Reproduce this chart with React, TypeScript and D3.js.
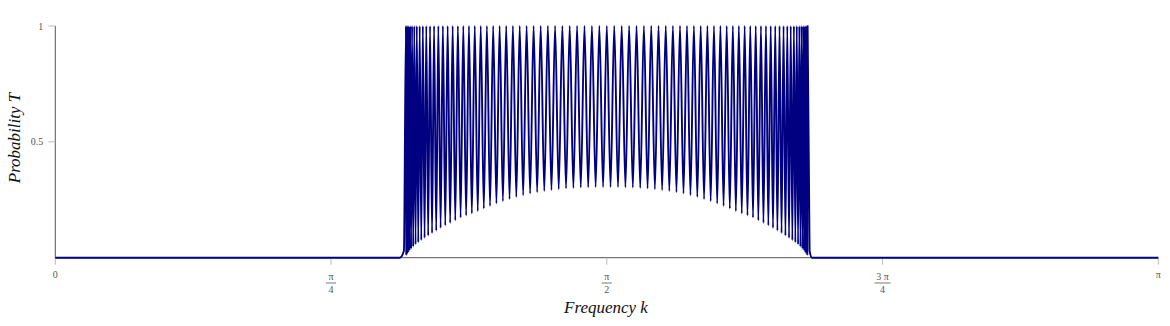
import React from "react";
import * as d3 from "d3";

// Resonance peak positions (frequency k, radians), where T reaches 1
const peakK = [
  0.998828, 1.000322, 1.002819, 1.006279, 1.010722, 1.016119, 1.022449, 1.029694, 1.037853, 1.046847,
  1.056687, 1.067343, 1.078785, 1.090994, 1.1039, 1.117505, 1.131759, 1.146632, 1.162114, 1.178137,
  1.19469, 1.211736, 1.229253, 1.247202, 1.265545, 1.284261, 1.303332, 1.322726, 1.342396, 1.362341,
  1.382512, 1.402909, 1.423493, 1.444225, 1.465114, 1.486111, 1.507196, 1.52837, 1.549573, 1.570796,
  1.592019, 1.613222, 1.634396, 1.655481, 1.676478, 1.697367, 1.718099, 1.738683, 1.75908, 1.779251,
  1.799196, 1.818866, 1.83826, 1.857331, 1.876047, 1.89439, 1.912339, 1.929856, 1.946902, 1.963455,
  1.979478, 1.99496, 2.009833, 2.024087, 2.037692, 2.050598, 2.062807, 2.074249, 2.084905, 2.094745,
  2.103739, 2.111898, 2.119143, 2.125473, 2.13087, 2.135313, 2.138773, 2.14127, 2.142764,
];
const peakT = 1;

// Minimum transmission between consecutive resonances
const valleyT = [
  0.01, 0.015, 0.022, 0.03, 0.038, 0.047, 0.057, 0.066, 0.075, 0.085,
  0.095, 0.106, 0.117, 0.128, 0.139, 0.15, 0.161, 0.173, 0.182, 0.191,
  0.201, 0.212, 0.223, 0.234, 0.244, 0.253, 0.262, 0.27, 0.277, 0.283,
  0.288, 0.292, 0.296, 0.299, 0.301, 0.303, 0.304, 0.305, 0.305,
  0.305, 0.305, 0.304, 0.303, 0.301, 0.299, 0.296, 0.292, 0.288, 0.283,
  0.277, 0.27, 0.262, 0.253, 0.244, 0.234, 0.223, 0.212, 0.201, 0.191,
  0.182, 0.173, 0.161, 0.15, 0.139, 0.128, 0.117, 0.106, 0.095, 0.085,
  0.075, 0.066, 0.057, 0.047, 0.038, 0.03, 0.022, 0.015, 0.01,
];

// Evanescent tails outside the band
const leftTailK = [0, 0.9815, 0.9929];
const leftTailT = [0, 0, 0.03];
const rightTailK = [2.1484, 2.1552, Math.PI];
const rightTailT = [0.03, 0, 0];

const xTickValues = [0, Math.PI / 4, Math.PI / 2, (3 * Math.PI) / 4, Math.PI];
const xTickNum = ["0", "π", "π", "3 π", "π"];
const xTickDen = ["", "4", "2", "4", ""];
const yTickValues = [0.5, 1];
const yTickLabels = ["0.5", "1"];

export default function App() {
  const W = 1170;
  const H = 326;
  const x = d3.scaleLinear().domain([0, Math.PI]).range([55.3, 1158.3]);
  const y = d3.scaleLinear().domain([0, 1]).range([257.7, 26]);

  const pts: [number, number][] = [];
  leftTailK.forEach((k, i) => pts.push([k, leftTailT[i]]));
  peakK.forEach((k, i) => {
    pts.push([k, peakT]);
    if (i < peakK.length - 1) {
      pts.push([(k + peakK[i + 1]) / 2, valleyT[i]]);
    }
  });
  rightTailK.forEach((k, i) => pts.push([k, rightTailT[i]]));

  const line = d3
    .line<[number, number]>()
    .x((d) => x(d[0]))
    .y((d) => y(d[1]))
    .curve(d3.curveMonotoneX);

  const serif = "'Liberation Serif', 'DejaVu Serif', serif";

  return (
    <svg
      width={W}
      height={H}
      style={{ position: "absolute", left: 0, top: 0, background: "#fff" }}
    >
      {/* y axis */}
      <line x1={x(0)} x2={x(0)} y1={y(1)} y2={y(0)} stroke="#555" strokeWidth={1} />
      {yTickValues.map((v, i) => (
        <g key={"yt" + i}>
          <line x1={x(0) - 7} x2={x(0)} y1={y(v)} y2={y(v)} stroke="#bbb" strokeWidth={1} />
          <text
            x={x(0) - 12}
            y={y(v)}
            dy="0.35em"
            textAnchor="end"
            fontFamily={serif}
            fontSize={10}
            fill="#555"
          >
            {yTickLabels[i]}
          </text>
        </g>
      ))}
      {/* x axis */}
      <line x1={x(0)} x2={x(Math.PI)} y1={y(0)} y2={y(0)} stroke="#555" strokeWidth={1} />
      {xTickValues.map((v, i) => (
        <g key={"xt" + i}>
          <line x1={x(v)} x2={x(v)} y1={y(0)} y2={y(0) + 7} stroke="#bbb" strokeWidth={1} />
          {xTickDen[i] === "" ? (
            <text
              x={x(v)}
              y={278}
              textAnchor="middle"
              fontFamily={serif}
              fontSize={10}
              fill="#555"
            >
              {xTickNum[i]}
            </text>
          ) : (
            <g>
              <text
                x={x(v)}
                y={280}
                textAnchor="middle"
                fontFamily={serif}
                fontSize={10}
                fill="#555"
              >
                {xTickNum[i]}
              </text>
              <line
                x1={x(v) - (xTickNum[i].length > 1 ? 8 : 5)}
                x2={x(v) + (xTickNum[i].length > 1 ? 8 : 5)}
                y1={283}
                y2={283}
                stroke="#555"
                strokeWidth={0.8}
              />
              <text
                x={x(v)}
                y={293}
                textAnchor="middle"
                fontFamily={serif}
                fontSize={10}
                fill="#555"
              >
                {xTickDen[i]}
              </text>
            </g>
          )}
        </g>
      ))}
      {/* data */}
      <path d={line(pts) || ""} fill="none" stroke="#000080" strokeWidth={1.9} strokeLinejoin="round" />
      {/* titles */}
      <text
        x={606}
        y={313}
        textAnchor="middle"
        fontFamily={serif}
        fontStyle="italic"
        fontSize={17}
        fill="#111"
      >
        Frequency k
      </text>
      <text
        transform={`translate(20, 138) rotate(-90)`}
        textAnchor="middle"
        fontFamily={serif}
        fontStyle="italic"
        fontSize={17}
        fill="#111"
      >
        Probability T
      </text>
    </svg>
  );
}
